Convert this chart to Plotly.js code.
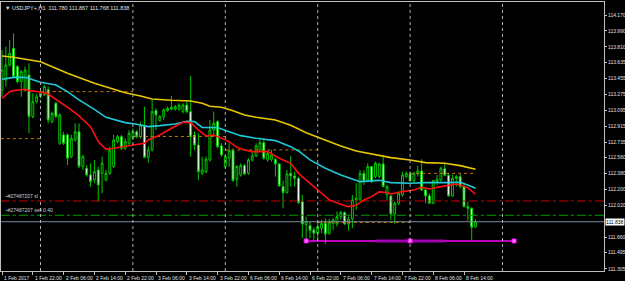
<!DOCTYPE html>
<html>
<head>
<meta charset="utf-8">
<script src="https://cdn.plot.ly/plotly-3.0.1.min.js"></script>
<style>html,body{margin:0;padding:0;background:#000;}#chart{width:625px;height:281px;}</style>
</head>
<body>
<div id="chart"></div>
<script>
// Bar index 0 = 1 Feb 2017 14:00 (H1 bars)
const barOpen = [
113.324,113.437,113.606,113.794,113.588,113.418,113.324,113.494,113.024,113.193,
113.249,113.268,113.330,112.967,113.174,112.723,112.817,112.817,112.572,112.760,
112.854,112.460,112.441,112.366,112.309,112.422,112.384,112.309,112.384,112.460,
112.742,112.798,112.666,112.723,112.779,112.854,112.798,112.918,112.565,112.648,
113.091,112.978,113.024,113.091,113.106,113.106,113.106,113.080,113.155,113.080,
112.817,112.704,112.384,112.403,112.535,112.873,112.967,112.693,112.460,112.554,
112.640,112.317,112.366,112.471,112.384,112.535,112.580,112.648,112.730,112.535,
112.542,112.542,112.490,112.234,112.166,112.384,112.354,112.328,112.065,111.802,
111.794,111.745,111.708,111.764,111.820,111.708,111.820,111.813,111.896,111.941,
111.813,111.869,112.084,112.091,112.384,112.309,112.460,112.347,112.347,112.490,
112.140,112.129,111.926,112.046,112.140,112.347,112.377,112.298,112.377,112.411,
112.196,112.129,112.046,112.290,112.309,112.437,112.362,112.129,112.324,112.347,
112.234,112.008,111.990,111.780];
const barHigh = [
113.776,113.813,113.888,113.964,113.606,113.550,113.588,113.625,113.287,113.280,
113.306,113.381,113.362,113.080,113.193,113.061,112.854,112.836,112.817,112.948,
112.948,112.591,112.478,112.497,112.535,112.460,112.572,112.422,112.685,112.817,
112.817,112.817,112.779,112.873,112.892,112.873,112.967,113.136,112.685,113.212,
113.118,113.042,113.118,113.136,113.257,113.155,113.174,113.174,113.212,113.482,
112.854,112.836,112.572,112.572,112.986,113.080,112.986,112.723,112.591,112.723,
112.666,112.478,112.497,112.490,112.554,112.629,112.723,112.760,112.760,112.629,
112.648,112.554,112.497,112.302,112.422,112.580,112.403,112.347,112.140,111.896,
111.839,111.775,111.839,111.858,111.877,111.869,111.877,111.952,111.960,111.952,
111.896,112.140,112.272,112.422,112.422,112.497,112.467,112.516,112.505,112.580,
112.253,112.140,112.065,112.178,112.403,112.403,112.403,112.403,112.467,112.542,
112.204,112.159,112.309,112.366,112.460,112.497,112.384,112.366,112.366,112.377,
112.272,112.065,111.997,111.867];
const barLow = [
113.249,113.362,113.588,113.456,113.400,113.249,113.306,112.836,113.005,113.174,
113.230,113.257,112.948,112.948,113.005,112.704,112.704,112.478,112.554,112.742,
112.441,112.422,112.347,112.234,112.272,112.065,112.159,112.290,112.366,112.441,
112.723,112.648,112.648,112.704,112.760,112.779,112.779,112.554,112.505,112.629,
112.873,112.967,112.986,113.080,113.099,113.091,113.091,113.061,113.061,112.572,
112.648,112.309,112.366,112.384,112.516,112.817,112.666,112.572,112.441,112.460,
112.290,112.234,112.347,112.366,112.366,112.516,112.565,112.629,112.535,112.516,
112.516,112.347,112.234,111.990,112.159,112.234,112.234,112.038,111.651,111.632,
111.651,111.614,111.632,111.708,111.587,111.689,111.745,111.783,111.858,111.802,
111.738,111.764,111.971,112.065,112.253,112.290,112.272,112.328,112.328,112.226,
112.084,111.858,111.813,112.027,112.121,112.328,112.290,112.290,112.347,112.189,
112.046,112.038,112.038,112.253,112.290,112.354,112.121,112.121,112.234,112.215,
112.001,111.850,111.632,111.768];
const barClose = [
113.550,113.606,113.738,113.475,113.418,113.531,113.550,113.024,113.193,113.249,
113.287,113.362,112.986,113.061,113.024,113.042,112.723,112.554,112.779,112.854,
112.460,112.572,112.366,112.290,112.403,112.253,112.497,112.384,112.648,112.760,
112.798,112.666,112.742,112.836,112.854,112.798,112.930,112.565,112.648,113.080,
113.042,113.024,113.099,113.118,113.129,113.136,113.155,113.155,113.080,112.798,
112.704,112.403,112.422,112.542,112.873,112.948,112.685,112.591,112.572,112.640,
112.302,112.460,112.471,112.377,112.535,112.580,112.693,112.730,112.554,112.610,
112.591,112.490,112.242,112.166,112.377,112.354,112.328,112.054,111.813,111.839,
111.738,111.708,111.783,111.820,111.700,111.828,111.858,111.896,111.941,111.813,
111.869,112.084,112.102,112.384,112.290,112.460,112.290,112.497,112.490,112.234,
112.234,111.926,112.046,112.159,112.366,112.384,112.298,112.384,112.411,112.196,
112.129,112.046,112.302,112.317,112.441,112.362,112.129,112.328,112.347,112.234,
112.008,111.990,111.775,111.838];

// Moving averages (bar index, price)
const maSlowBars = [0,3,10,17,24,28,32,36,39,44,49,52,54,57,60,63,66,71,75,79,84,88,92,97,101,106,110,115,119,123];
const maSlow = [113.708,113.693,113.644,113.512,113.400,113.343,113.294,113.257,113.223,113.208,113.200,113.174,113.140,113.129,113.091,113.042,113.016,112.986,112.926,112.843,112.760,112.693,112.636,112.599,112.561,112.535,112.505,112.497,112.471,112.430];
const maMidBars = [0,3,6,8,10,14,17,20,24,27,30,32,35,38,41,45,48,50,52,56,59,62,66,71,75,77,80,84,88,92,93,98,101,106,110,115,119,121,123];
const maMid = [113.445,113.467,113.467,113.437,113.411,113.381,113.306,113.212,113.106,113.016,112.975,112.956,112.937,112.911,112.922,112.941,112.971,112.967,112.903,112.900,112.854,112.809,112.779,112.753,112.685,112.636,112.535,112.441,112.366,112.298,112.290,112.305,112.279,112.272,112.279,112.279,112.283,112.253,112.215];
const maFastBars = [0,2,3,6,7,10,12,15,18,20,23,25,27,29,32,34,37,38,41,44,47,49,51,53,55,57,59,61,63,65,69,72,75,77,80,83,85,88,90,92,94,96,98,100,101,104,107,109,111,114,116,118,121,123];
const maFast = [113.230,113.306,113.317,113.332,113.317,113.302,113.279,113.193,113.099,113.031,112.911,112.742,112.655,112.666,112.685,112.700,112.723,112.760,112.817,112.892,112.960,112.956,112.873,112.806,112.817,112.779,112.742,112.678,112.648,112.629,112.629,112.554,112.497,112.384,112.272,112.159,112.084,112.035,112.008,112.023,112.084,112.121,112.174,112.166,112.151,112.178,112.196,112.226,112.208,112.234,112.253,112.264,112.223,112.148];

// Daily levels (orange dotted)
const levelStart = [-0.3,10,34,58,82,106];
const levelEnd = [10,34,58,82,106,123];
const levelPrice = [112.775,113.306,112.800,112.648,111.830,112.384];

// Magenta line
const magentaBars = [79,106,133];
const magentaPrice = 111.621;
const purpleBars = [97,115];

// Order / price lines
const slPrice = 112.072;
const entryPrice = 111.911;
const bidPrice = 111.838;

const separatorBars = [10,34,58,82,106,130];
const tickBars = [0,8,16,24,32,40,48,56,64,72,80,88,96,104,112,120];
const tickLabels = ["1 Feb 2017","1 Feb 22:00","2 Feb 06:00","2 Feb 14:00","2 Feb 22:00","3 Feb 06:00","3 Feb 14:00","3 Feb 22:00","6 Feb 06:00","6 Feb 14:00","6 Feb 22:00","7 Feb 06:00","7 Feb 14:00","7 Feb 22:00","8 Feb 06:00","8 Feb 14:00"];
const priceTicks = [114.170,113.990,113.810,113.635,113.455,113.275,113.095,112.915,112.735,112.560,112.380,112.200,112.020,111.660,111.495,111.305];
const titleText = "▼ USDJPY+,H1  111.780 111.867 111.768 111.838";

const FONT = 'Liberation Sans, Arial, sans-serif';
const bars = barOpen.map((_, i) => i);

const lvX = [], lvY = [];
levelStart.forEach((s, k) => { lvX.push(s, levelEnd[k], null); lvY.push(levelPrice[k], levelPrice[k], null); });

const traces = [
  {type:'scatter', mode:'lines', x:lvX, y:lvY, line:{color:'#c87800', width:1, dash:'dot'}, hoverinfo:'skip'},
  {type:'scatter', mode:'lines', x:[-0.3,156.4], y:[slPrice,slPrice], line:{color:'#c80000', width:1, dash:'dashdot'}, hoverinfo:'skip'},
  {type:'scatter', mode:'lines', x:[-0.3,156.4], y:[entryPrice,entryPrice], line:{color:'#00a000', width:1, dash:'dashdot'}, hoverinfo:'skip'},
  {type:'scatter', mode:'lines', x:[-0.3,156.4], y:[bidPrice,bidPrice], line:{color:'#778899', width:1}, hoverinfo:'skip'},
  {type:'candlestick', x:bars, open:barOpen, high:barHigh, low:barLow, close:barClose,
    increasing:{line:{color:'#00c800', width:1}, fillcolor:'#000000'},
    decreasing:{line:{color:'#00c800', width:1}, fillcolor:'#ffffff'},
    whiskerwidth:0, hoverinfo:'none'},
  {type:'scatter', mode:'lines', x:maSlowBars, y:maSlow, line:{color:'#e8c800', width:1.6}, hoverinfo:'skip'},
  {type:'scatter', mode:'lines', x:maMidBars, y:maMid, line:{color:'#20c8d8', width:1.6}, hoverinfo:'skip'},
  {type:'scatter', mode:'lines', x:maFastBars, y:maFast, line:{color:'#ff1010', width:1.6}, hoverinfo:'skip'},
  {type:'scatter', mode:'lines', x:[magentaBars[0], magentaBars[magentaBars.length-1]], y:[magentaPrice, magentaPrice], line:{color:'#ff00ff', width:1.5}, hoverinfo:'skip'},
  {type:'scatter', mode:'lines', x:purpleBars, y:[magentaPrice, magentaPrice], line:{color:'#a000b0', width:3}, hoverinfo:'skip'},
  {type:'scatter', mode:'markers', x:magentaBars, y:magentaBars.map(() => magentaPrice), marker:{symbol:'square', size:4, color:'#ff80ff', line:{color:'#ff00ff', width:1}}, hoverinfo:'skip'}
];

const shapes = separatorBars.map(b => ({type:'line', xref:'x', yref:'paper', x0:b, x1:b, y0:0, y1:1, line:{color:'#b0b0b0', width:1, dash:'dot'}}));

const annotations = tickBars.map((b, k) => ({
  xref:'x', yref:'paper', x:b, y:0, xanchor:'left', yanchor:'top', yshift:-2, xshift:0,
  text:tickLabels[k], showarrow:false, font:{family:FONT, size:5, color:'#e0e0e0'}
}));
annotations.push({xref:'paper', yref:'paper', x:0, y:1, xanchor:'left', yanchor:'top', xshift:2, yshift:-1,
  text:titleText, showarrow:false, font:{family:FONT, size:5.5, color:'#e0e0e0'}});
annotations.push({xref:'paper', yref:'y', x:1, y:bidPrice, xanchor:'left', yanchor:'middle', xshift:1,
  text:bidPrice.toFixed(3), showarrow:false, bgcolor:'#ffffff', borderpad:0, font:{family:FONT, size:5, color:'#000000'}});
annotations.push({xref:'paper', yref:'y', x:0, y:slPrice, xanchor:'left', yanchor:'bottom', xshift:3, yshift:0,
  text:'▪#27487207 sl', showarrow:false, font:{family:FONT, size:5, color:'#d0d0d0'}});
annotations.push({xref:'paper', yref:'y', x:0, y:entryPrice, xanchor:'left', yanchor:'bottom', xshift:3, yshift:0,
  text:'▪#27487207 sell 0.40', showarrow:false, font:{family:FONT, size:5, color:'#d0d0d0'}});

const layout = {
  width:625, height:281,
  margin:{l:1, r:21, t:2, b:10, pad:0},
  paper_bgcolor:'#000000', plot_bgcolor:'#000000',
  showlegend:false, hovermode:false,
  xaxis:{range:[-0.26,156.36], showgrid:false, zeroline:false, showline:true, linecolor:'#c0c0c0', linewidth:1, mirror:true,
    ticks:'outside', ticklen:3, tickcolor:'#c0c0c0', tickvals:tickBars, showticklabels:false,
    rangeslider:{visible:false}, automargin:false, fixedrange:true},
  yaxis:{side:'right', range:[111.282,114.317], showgrid:false, zeroline:false, showline:true, linecolor:'#c0c0c0', linewidth:1, mirror:true,
    ticks:'outside', ticklen:2, tickcolor:'#c0c0c0', tickvals:priceTicks, ticktext:priceTicks.map(v => v.toFixed(3)),
    ticklabelstandoff:0,
    tickfont:{family:FONT, size:5, color:'#e0e0e0'}, automargin:false, fixedrange:true},
  shapes:shapes,
  annotations:annotations
};

Plotly.newPlot('chart', traces, layout, {displayModeBar:false, staticPlot:true});
</script>
</body>
</html>
